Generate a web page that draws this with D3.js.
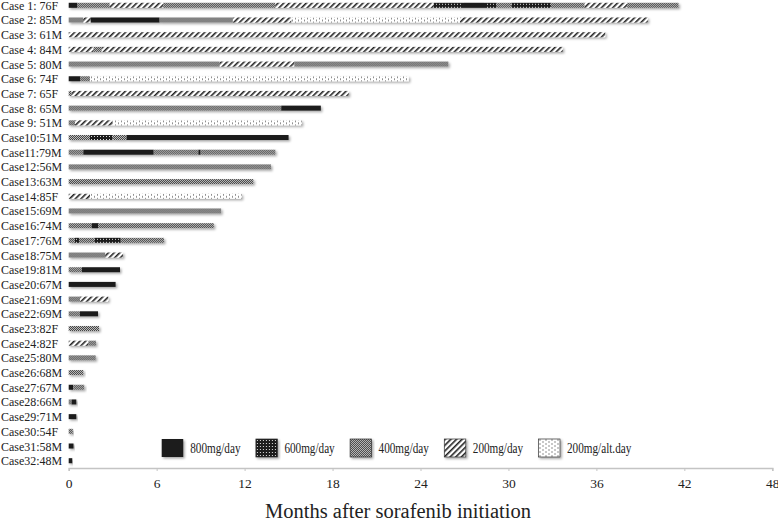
<!DOCTYPE html>
<html>
<head>
<meta charset="utf-8">
<script src="https://cdn.jsdelivr.net/npm/d3@7"></script>
<style>
  body { margin: 0; background: #fff; }
  text { font-family: "Liberation Serif", "Times New Roman", serif; fill: #222; }
</style>
</head>
<body>
<script>
// patient labels, top to bottom
let cases = [
  "Case 1: 76F", "Case 2: 85M", "Case 3: 61M", "Case 4: 84M", "Case 5: 80M",
  "Case 6: 74F", "Case 7: 65F", "Case 8: 65M", "Case 9: 51M", "Case10:51M",
  "Case11:79M", "Case12:56M", "Case13:63M", "Case14:85F", "Case15:69M",
  "Case16:74M", "Case17:76M", "Case18:75M", "Case19:81M", "Case20:67M",
  "Case21:69M", "Case22:69M", "Case23:82F", "Case24:82F", "Case25:80M",
  "Case26:68M", "Case27:67M", "Case28:66M", "Case29:71M", "Case30:54F",
  "Case31:58M", "Case32:48M"
];

let doses = ["800mg/day", "600mg/day", "400mg/day", "200mg/day", "200mg/alt.day"];

// each segment: [dose index, month when that dose ended]
let schedules = [
  [[0, 0.6], [2, 2.8], [3, 6.45], [2, 14.1], [3, 24.9], [1, 26.9], [0, 28.4], [1, 29.2], [2, 30.2], [1, 32.9], [2, 35.2], [3, 38.1], [2, 41.6]],
  [[2, 1.0], [3, 1.5], [0, 6.2], [2, 11.2], [3, 15.2], [4, 26.7], [3, 39.5]],
  [[3, 36.6]],
  [[3, 1.7], [2, 2.25], [3, 33.7]],
  [[2, 10.3], [3, 15.4], [2, 25.9]],
  [[0, 0.77], [2, 1.45], [4, 23.2]],
  [[2, 0.2], [3, 19.1]],
  [[2, 14.5], [0, 17.2]],
  [[2, 0.43], [3, 3.0], [4, 15.9]],
  [[2, 1.45], [1, 3.0], [2, 3.95], [0, 15.0]],
  [[2, 1.0], [0, 5.8], [2, 8.85], [0, 9.0], [2, 14.1]],
  [[2, 13.8]],
  [[2, 12.6]],
  [[3, 1.45], [4, 11.8]],
  [[2, 10.4]],
  [[2, 1.57], [0, 2.0], [2, 9.9]],
  [[2, 0.43], [1, 0.7], [2, 1.75], [1, 3.55], [2, 6.5]],
  [[2, 2.5], [3, 3.7]],
  [[2, 0.9], [0, 3.5]],
  [[0, 3.2]],
  [[2, 0.77], [3, 2.7]],
  [[2, 0.77], [0, 2.0]],
  [[2, 2.07]],
  [[3, 1.35], [2, 1.86]],
  [[2, 1.84]],
  [[2, 1.0]],
  [[0, 0.31], [2, 1.06]],
  [[2, 0.2], [0, 0.52]],
  [[0, 0.52]],
  [[2, 0.28]],
  [[0, 0.33]],
  [[0, 0.24]]
];

let xTicks = [0, 6, 12, 18, 24, 30, 36, 42, 48];

let width = 778, height = 523;

let svg = d3.select("body").append("svg")
  .attr("width", width)
  .attr("height", height);

let defs = svg.append("defs");

// soft shadow under the bars
let shadow = defs.append("filter").attr("id", "shadow")
  .attr("x", "-5%").attr("y", "-50%").attr("width", "120%").attr("height", "250%");
shadow.append("feDropShadow")
  .attr("dx", 1.5).attr("dy", 1.5).attr("stdDeviation", 0.9)
  .attr("flood-color", "#000").attr("flood-opacity", 0.35);

// fill patterns, one per dose
let p600 = defs.append("pattern").attr("id", "p1")
  .attr("patternUnits", "userSpaceOnUse").attr("width", 3).attr("height", 3);
p600.append("rect").attr("width", 3).attr("height", 3).attr("fill", "#1c1c1c");
p600.append("rect").attr("x", 1).attr("y", 1).attr("width", 1).attr("height", 1).attr("fill", "#ddd");

let p400 = defs.append("pattern").attr("id", "p2")
  .attr("patternUnits", "userSpaceOnUse").attr("width", 2).attr("height", 2);
p400.append("rect").attr("width", 2).attr("height", 2).attr("fill", "#c0c0c0");
p400.append("rect").attr("width", 1).attr("height", 1).attr("fill", "#444");
p400.append("rect").attr("x", 1).attr("y", 1).attr("width", 1).attr("height", 1).attr("fill", "#444");

let p200 = defs.append("pattern").attr("id", "p3")
  .attr("patternUnits", "userSpaceOnUse").attr("width", 4).attr("height", 4)
  .attr("patternTransform", "rotate(45)");
p200.append("rect").attr("width", 4).attr("height", 4).attr("fill", "#fff");
p200.append("rect").attr("width", 1.6).attr("height", 4).attr("fill", "#222");

let pAlt = defs.append("pattern").attr("id", "p4")
  .attr("patternUnits", "userSpaceOnUse").attr("width", 6).attr("height", 4);
pAlt.append("rect").attr("width", 6).attr("height", 4).attr("fill", "#fff");
pAlt.append("rect").attr("x", 1).attr("y", 0.5).attr("width", 1).attr("height", 1).attr("fill", "#222");
pAlt.append("rect").attr("x", 4).attr("y", 2.5).attr("width", 1).attr("height", 1).attr("fill", "#222");

let fills = ["#1c1c1c", "url(#p1)", "url(#p2)", "url(#p3)", "url(#p4)"];

let x = d3.scaleLinear().domain([0, 48]).range([68.7, 772.3]);
let y = d3.scalePoint().domain(cases).range([5.3, 460.7]);

let barH = 5;

// case labels (the original type is slightly condensed)
svg.append("g").selectAll("text")
  .data(cases)
  .enter().append("text")
  .attr("transform", (d) => "translate(1," + (y(d) + 4.5) + ") scale(0.92,1)")
  .attr("font-size", 13)
  .text((d) => d);

// bars, one group per case
let rows = svg.append("g").selectAll("g")
  .data(schedules)
  .enter().append("g")
  .attr("filter", "url(#shadow)")
  .attr("transform", (d, i) => "translate(0," + (y(cases[i]) - barH / 2) + ")");

rows.selectAll("rect")
  .data((d) => d.map((s, j) => ({ dose: s[0], start: j ? d[j - 1][1] : 0, end: s[1] })))
  .enter().append("rect")
  .attr("x", (d) => x(d.start))
  .attr("width", (d) => x(d.end) - x(d.start))
  .attr("height", barH)
  .attr("fill", (d) => fills[d.dose]);

// x axis
let axis = svg.append("g").attr("transform", "translate(0,468)")
  .call(d3.axisBottom(x).tickValues(xTicks).tickSize(3).tickPadding(7).tickFormat(d3.format("d")));
axis.select(".domain").attr("stroke", "#c4c4c4").attr("stroke-width", 1.5);
axis.selectAll(".tick line").attr("stroke", "#c4c4c4");
axis.selectAll(".tick text")
  .attr("font-family", "Liberation Serif, serif")
  .attr("font-size", 13.5)
  .attr("fill", "#222");

svg.append("text")
  .attr("x", 398)
  .attr("y", 518)
  .attr("text-anchor", "middle")
  .attr("font-size", 20.5)
  .text("Months after sorafenib initiation");

// legend
let legend = svg.append("g").selectAll("g")
  .data(doses)
  .enter().append("g")
  .attr("transform", (d, i) => "translate(" + (161.7 + i * 94.2) + ",439)");

legend.append("rect")
  .attr("width", 21.5)
  .attr("height", 18)
  .attr("fill", (d, i) => fills[i])
  .attr("stroke", (d, i) => (i ? "#333" : "none"))
  .attr("stroke-width", 0.7)
  .attr("filter", "url(#shadow)");

legend.append("text")
  .attr("transform", "translate(28.5,13.5) scale(0.8,1)")
  .attr("font-size", 14)
  .text((d) => d);
</script>
</body>
</html>
